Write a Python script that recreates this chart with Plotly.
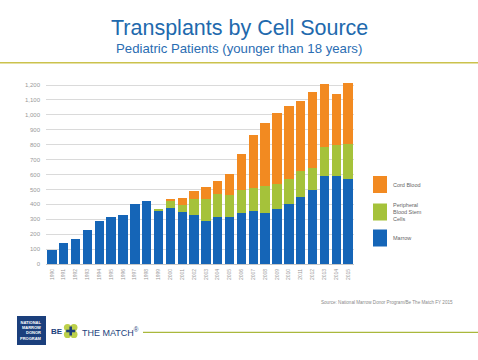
import plotly.graph_objects as go

years = [str(y) for y in range(1990, 2016)]
marrow = [95, 140, 167, 230, 287, 315, 330, 405, 420, 355, 378, 348, 332, 290, 315, 316,
          344, 353, 342, 371, 404, 449, 493, 593, 593, 571]
pbsc = [0, 0, 0, 0, 0, 0, 0, 0, 0, 15, 50, 50, 104, 145, 157, 144,
        149, 158, 178, 167, 167, 173, 151, 194, 203, 233]
cord = [0, 0, 0, 0, 0, 0, 0, 0, 0, 0, 5, 42, 52, 83, 85, 142,
        245, 356, 429, 473, 487, 471, 512, 418, 342, 411]
series_names = ["Marrow", "Peripheral<br>Blood Stem<br>Cells", "Cord Blood"]
colors = ["#1565b7", "#a5c23a", "#f28a21"]
y_ticks = list(range(0, 1201, 100))

W, H = 478, 360
L, R, T, B = 46, 124, 80, 96
PW, PH = W - L - R, H - T - B


def px(x):
    return (x - L) / PW


def py(y):
    return (H - B - y) / PH


fig = go.Figure()
for name, vals, col in zip(series_names, [marrow, pbsc, cord], colors):
    fig.add_trace(go.Bar(x=years, y=vals, name=name, marker=dict(color=col, line=dict(width=0)),
                         showlegend=False))

shapes = []
annotations = []

# header rule
shapes.append(dict(type="line", xref="paper", yref="paper", x0=px(0), x1=px(W), y0=py(62.7), y1=py(62.7),
                   line=dict(color="#cbc24c", width=1.5)))
# footer rule
shapes.append(dict(type="line", xref="paper", yref="paper", x0=px(143), x1=px(W), y0=py(332.3), y1=py(332.3),
                   line=dict(color="#aab83c", width=1.2)))

annotations.append(dict(text="Transplants by Cell Source", xref="paper", yref="paper", x=px(239.5), y=py(28),
                        xanchor="center", yanchor="middle", showarrow=False,
                        font=dict(family="Liberation Sans, Arial", size=21.5, color="#2169ad")))
annotations.append(dict(text="Pediatric Patients (younger than 18 years)", xref="paper", yref="paper",
                        x=px(239), y=py(48.5), xanchor="center", yanchor="middle", showarrow=False,
                        font=dict(family="Liberation Sans, Arial", size=13.2, color="#2a6db2")))

# legend (custom)
leg_y = [238, 212, 184.5]
for name, col, yc in zip(series_names, colors, leg_y):
    shapes.append(dict(type="rect", xref="paper", yref="paper", x0=px(373), x1=px(387),
                       y0=py(yc - 8.5), y1=py(yc + 8.5), fillcolor=col, line=dict(width=0)))
    annotations.append(dict(text=name, xref="paper", yref="paper", x=px(391), y=py(yc),
                            xanchor="left", yanchor="middle", align="left", showarrow=False,
                            font=dict(family="Liberation Sans, Arial", size=5.5, color="#666666")))

# source
annotations.append(dict(text="Source: National Marrow Donor Program/Be The Match FY 2015", xref="paper",
                        yref="paper", x=px(455), y=py(302), xanchor="right", yanchor="middle",
                        showarrow=False, font=dict(family="Liberation Sans, Arial", size=4.6, color="#8a8a8a")))

# NMDP logo box
shapes.append(dict(type="rect", xref="paper", yref="paper", x0=px(17), x1=px(46), y0=py(345), y1=py(316),
                   fillcolor="#1b3f7c", line=dict(width=0)))
annotations.append(dict(text="<b>NATIONAL<br>MARROW<br>DONOR<br>PROGRAM</b>", xref="paper", yref="paper",
                        x=px(44), y=py(330.5), xanchor="right", yanchor="middle", align="right",
                        showarrow=False,
                        font=dict(family="Liberation Sans, Arial", size=4, color="#ffffff")))
# Be The Match logo
annotations.append(dict(text="<b>BE</b>", xref="paper", yref="paper", x=px(48.5), y=py(331.5),
                        xanchor="left", yanchor="middle", showarrow=False,
                        font=dict(family="Liberation Sans, Arial", size=8, color="#1c3f7c")))
for cx, cy in [(67.5, 327.6), (73.9, 327.6), (67.5, 334.4), (73.9, 334.4)]:
    shapes.append(dict(type="circle", xref="paper", yref="paper", x0=px(cx - 3.6), x1=px(cx + 3.6),
                       y0=py(cy + 3.6), y1=py(cy - 3.6), fillcolor="#bcd04a", line=dict(width=0)))
shapes.append(dict(type="rect", xref="paper", yref="paper", x0=px(69.4), x1=px(72.0), y0=py(335.5), y1=py(326.5),
                   fillcolor="#1c3f7c", line=dict(width=0)))
shapes.append(dict(type="rect", xref="paper", yref="paper", x0=px(66.2), x1=px(75.2), y0=py(332.3), y1=py(329.7),
                   fillcolor="#1c3f7c", line=dict(width=0)))
annotations.append(dict(text="THE MATCH<sup>®</sup>", xref="paper", yref="paper", x=px(79.5), y=py(331.5),
                        xanchor="left", yanchor="middle", showarrow=False,
                        font=dict(family="Liberation Sans, Arial", size=9, color="#1c3f7c")))

fig.update_layout(
    width=W, height=H, autosize=False,
    margin=dict(l=L, r=R, t=T, b=B, pad=0),
    barmode="stack", bargap=0.21,
    plot_bgcolor="white", paper_bgcolor="white",
    shapes=shapes, annotations=annotations,
    font=dict(family="Liberation Sans, Arial"),
    hovermode=False,
    xaxis=dict(type="category", tickangle=-90, tickfont=dict(size=5, color="#999999"),
               showgrid=False, showline=True, linecolor="#c8c8c8", linewidth=0.8, ticks="",
               ticklabelstandoff=2),
    yaxis=dict(range=[0, 1234], tickvals=y_ticks, tickformat=",", tickfont=dict(size=6, color="#999999"),
               showgrid=True, gridcolor="#dadada", gridwidth=0.7, zeroline=False, showline=False,
               ticks="", ticklabelstandoff=5),
)

fig.write_html("out.html", config={"displayModeBar": False},
               post_script="document.body.style.margin='0';document.body.style.overflow='hidden';")
